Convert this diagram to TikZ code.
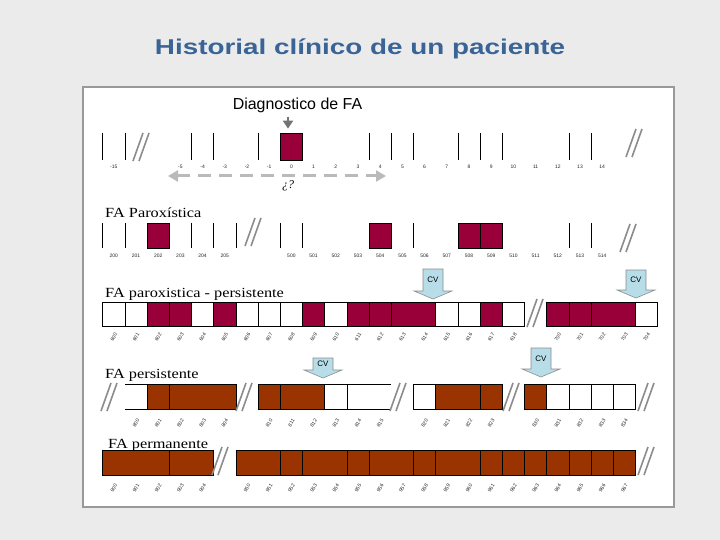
\documentclass[tikz,border=0pt]{standalone}
\usepackage{fontspec}
\setmainfont{Liberation Serif}
\setsansfont{Liberation Sans}
\usetikzlibrary{arrows.meta,positioning}

\definecolor{titleblue}{RGB}{58,100,150}
\definecolor{fawine}{RGB}{153,0,58}
\definecolor{fabrown}{RGB}{153,51,0}
\definecolor{cvblue}{RGB}{183,221,232}
\definecolor{slidegray}{RGB}{235,235,235}

% x position of the k-th day cell
\newcommand{\kx}[1]{102.7+22.2*(#1)}
% down arrow with "CV": name, x, top y, tip y
\newcommand{\cvmark}[4]{%
  \draw[cvbox] (#2-10,#3) -- (#2+10,#3) -- (#2+10,#4-8) -- (#2+19,#4-8) -- (#2,#4)
    -- (#2-19,#4-8) -- (#2-10,#4-8) -- cycle;
  \node[cvtext] (#1) at (#2,{(#3+#4-8)/2}) {CV};}

\begin{document}
\begin{tikzpicture}[x=1bp, y=-1bp,
    panel/.style={draw=black!40, line width=1.4bp, fill=white},
    heading/.style={anchor=base west, inner sep=0pt, font=\fontsize{14}{16}\selectfont, xscale=1.17, transform shape},
    tick/.style={draw=black, line width=0.8bp},
    cell/.style={draw=black, line width=0.8bp},
    ticklab/.style={inner sep=0pt, font=\sffamily\fontsize{5}{6}\selectfont, text=black!85},
    datelab/.style={ticklab, rotate=58},
    cutline/.style={draw=black!45, line width=1.6bp},
    cvbox/.style={draw=black!45, fill=cvblue, line width=0.6bp},
    cvtext/.style={inner sep=0pt, font=\sffamily\fontsize{8}{9}\selectfont},
    brk/.pic={\draw[cutline] (-8,14) -- (2,-14); \draw[cutline] (-2,14) -- (8,-14);}
]
\useasboundingbox (0,0) rectangle (720,540);
\fill[slidegray] (0,0) rectangle (720,540);

% Title
\node[anchor=base, inner sep=0pt, text=titleblue, font=\sffamily\bfseries\fontsize{21.5}{24}\selectfont,
  xscale=1.3, transform shape] (title) at (360,55) {Historial clínico de un paciente};

\draw[panel] (83,87) rectangle (674,507);

% Diagnosis line
\node[anchor=base, inner sep=0pt, font=\sffamily\fontsize{16}{18}\selectfont] (diagtxt) at (297.5,110) {Diagnostico de FA};
\node[draw=black, line width=0.8bp, fill=fawine, minimum width=22.2bp, minimum height=27bp, inner sep=0pt]
  (diag0) at ({\kx{8.5}},146.5) {};
\draw[black!55, line width=2.4bp, -{Triangle[length=8bp,width=10bp]}] ([yshift=-3bp]diagtxt.south -| 288,0) -- ([yshift=4bp]diag0.north -| 288,0);
\foreach \k in {0,1,4,5,7,12,13,14,16,17,18,21,22}
  \draw[tick] ({\kx{\k}},133) -- ({\kx{\k}},160);
\node[ticklab] (d0l) at ({\kx{0.5}},167) {-15};
\foreach \v [count=\i from 3] in {-5,...,14}
  \node[ticklab] (d0l\i) at ({\kx{\i+0.5}},167) {\v};
\pic at (141,147) {brk};
\pic at (634,143) {brk};
\coordinate (ul) at (168,176);
\coordinate (ur) at (386,176);
\draw[black!27, line width=3bp, dash pattern=on 13bp off 8bp,
  {Triangle[length=10bp,width=11bp]}-{Triangle[length=10bp,width=11bp]}] (ul) -- (ur);
\node[font=\itshape\fontsize{12}{13}\selectfont, inner sep=0pt] (unknown) at (288,186) {¿?};

% FA paroxistica
\node[heading] (parox) at (105,218) {FA Paroxística};
\foreach \k in {0,1,4,5,6,8,9,14,21,22}
  \draw[tick] ({\kx{\k}},223) -- ({\kx{\k}},248);
\foreach \a/\b in {2/3,12/13,16/17,17/18}
  \filldraw[cell, fill=fawine] ({\kx{\a}},223) rectangle ({\kx{\b}},248);
\foreach \v [count=\i from 0] in {200,...,205}
  \node[ticklab] (d1l\i) at ({\kx{\i+0.5}},256) {\v};
\foreach \v [count=\i from 8] in {500,...,514}
  \node[ticklab] (d1l\i) at ({\kx{\i+0.5}},256) {\v};
\pic at (253,232) {brk};
\pic at (628,238) {brk};

% FA paroxistica - persistente
\node[heading] (paroxpers) at (105,297) {FA paroxistica - persistente};
\foreach \a/\b/\c in {0/1/white,1/2/white,2/3/fawine,3/4/fawine,4/5/white,5/6/fawine,6/7/white,
    7/8/white,8/9/white,9/10/fawine,10/11/white,11/12/fawine,12/13/fawine,13/15/fawine,15/16/white,
    16/17/white,17/18/fawine,18/19/white,20/21/fawine,21/22/fawine,22/24/fawine,24/25/white}
  \filldraw[cell, fill=\c] ({\kx{\a}},302) rectangle ({\kx{\b}},326);
\foreach \v [count=\i from 0] in {600,...,618}
  \node[datelab] (d2l\i) at ({\kx{\i+0.5}},337) {\v};
\foreach \v [count=\i from 20] in {700,...,704}
  \node[datelab] (d2l\i) at ({\kx{\i+0.5}},337) {\v};
\pic at (535,313) {brk};
\cvmark{cv1}{433}{269}{299}
\cvmark{cv2}{636}{270}{298}

% FA persistente
\node[heading] (pers) at (105,378) {FA persistente};
\draw[cell] ({\kx{2}},384) -- ({\kx{1}},384) ({\kx{1}},409) -- ({\kx{2}},409);
\draw[cell] ({\kx{11}},384) -- ({\kx{13}},384) ({\kx{11}},409) -- ({\kx{13}},409);
\foreach \a/\b/\c in {2/3/fabrown,3/6/fabrown,7/8/fabrown,8/10/fabrown,10/11/white,
    14/15/white,15/17/fabrown,17/18/fabrown,19/20/fabrown,20/21/white,21/22/white,22/23/white,23/24/white}
  \filldraw[cell, fill=\c] ({\kx{\a}},384) rectangle ({\kx{\b}},409);
\foreach \v [count=\i from 1] in {800,...,804}
  \node[datelab] (d3l\i) at ({\kx{\i+0.5}},423) {\v};
\foreach \v [count=\i from 7] in {810,...,815}
  \node[datelab] (d3l\i) at ({\kx{\i+0.5}},423) {\v};
\foreach \v [count=\i from 14] in {820,...,823}
  \node[datelab] (d3l\i) at ({\kx{\i+0.5}},423) {\v};
\foreach \v [count=\i from 19] in {830,...,834}
  \node[datelab] (d3l\i) at ({\kx{\i+0.5}},423) {\v};
\foreach \x in {109,244,398,511,646}
  \pic at (\x,397) {brk};
\cvmark{cv3}{323}{358}{378}
\cvmark{cv4}{541}{348}{377}

% FA permanente
\node[heading] (perm) at (108,448) {FA permanente};
\foreach \a/\b in {0/3,3/5,6/8,8/9,9/11,11/12,12/14,14/15,15/17,17/18,18/19,19/20,20/21,21/22,22/23,23/24}
  \filldraw[cell, fill=fabrown] ({\kx{\a}},450) rectangle ({\kx{\b}},475);
\foreach \v [count=\i from 0] in {900,...,904}
  \node[datelab] (d4l\i) at ({\kx{\i+0.5}},488) {\v};
\foreach \v [count=\i from 6] in {950,...,967}
  \node[datelab] (d4l\i) at ({\kx{\i+0.5}},488) {\v};
\pic at (220,461) {brk};
\pic at (646,461) {brk};

\end{tikzpicture}
\end{document}
